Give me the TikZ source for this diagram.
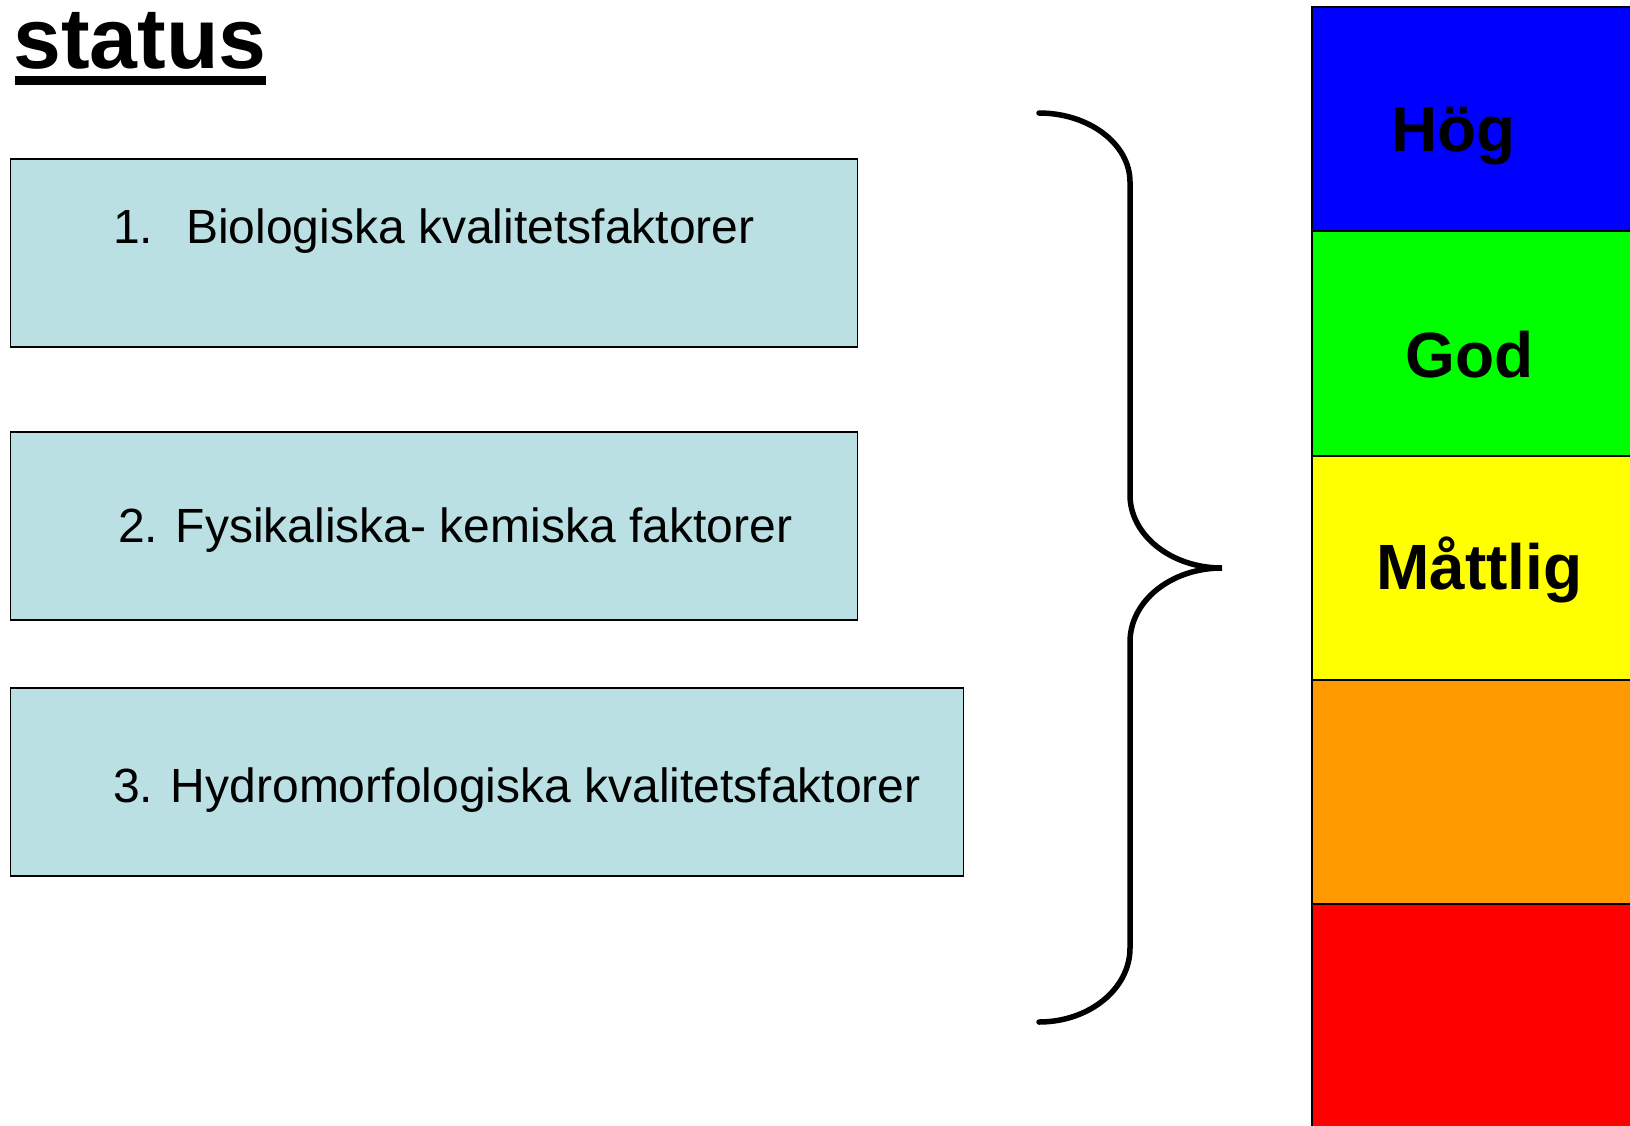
\documentclass[tikz,border=0pt]{standalone}
\usepackage{fontspec}
\setmainfont{Liberation Sans}
\definecolor{boxfill}{RGB}{186,224,227}
\definecolor{hog}{RGB}{0,0,255}
\definecolor{god}{RGB}{0,255,0}
\definecolor{mattlig}{RGB}{255,255,0}
\definecolor{otill}{RGB}{255,153,0}
\definecolor{dalig}{RGB}{255,0,0}
\begin{document}
\begin{tikzpicture}[x=1pt,y=-1pt,
  factorbox/.style={draw=black,line width=1.5pt,fill=boxfill,inner sep=0pt,
    minimum height=188pt},
  factortext/.style={anchor=base west,inner sep=0pt,
    font=\fontsize{48}{56}\selectfont},
  band/.style={draw=black,line width=2pt,inner sep=0pt,minimum width=330pt,
    minimum height=224.2pt,anchor=north west},
  bandtext/.style={anchor=base,inner sep=0pt,
    font=\fontsize{64}{72}\selectfont\bfseries},
  bracepath/.style={line width=5.5pt,line cap=round}]
\useasboundingbox (0,0) rectangle (1630,1125);
\clip (0,0) rectangle (1630,1125);
% title
\node[anchor=base west,inner sep=0pt,font=\fontsize{86}{96}\selectfont\bfseries]
  (status) at (13,68) {status};
\fill ([yshift=-8pt]status.base west -| 15,0) rectangle ([yshift=-17pt]status.base east -| 266,0);
% factor boxes
\node[factorbox,minimum width=847pt] (box1) at (434,253) {};
\node[factorbox,minimum width=847pt] (box2) at (434,526) {};
\node[factorbox,minimum width=953pt] (box3) at (487,782) {};
\node[factortext] (t1) at (113,243) {1.\hspace{33pt}Biologiska kvalitetsfaktorer};
\node[factortext] (t2) at (118,542) {2. Fysikaliska- kemiska faktorer};
\node[factortext] (t3) at (113,802) {3. Hydromorfologiska kvalitetsfaktorer};
% brace
\draw[bracepath] (1039,113)
  .. controls (1089,113) and (1130,144) .. (1130,182)
  -- (1130,495)
  .. controls (1130,535) and (1171,568) .. (1222,568)
  .. controls (1171,568) and (1130,601) .. (1130,642)
  -- (1130,948)
  .. controls (1130,989) and (1089,1022) .. (1039,1022);
% status bands
\node[band,fill=hog] (b1) at (1311,6.2) {};
\node[band,fill=god] (b2) at (1311,230.4) {};
\node[band,fill=mattlig] (b3) at (1311,454.6) {};
\node[band,fill=otill] (b4) at (1311,678.8) {};
\node[band,fill=dalig] (b5) at (1311,903) {};
\node[bandtext] (l1) at (1453.5,151) {Hög};
\node[bandtext] (l2) at (1469.5,377) {God};
\node[bandtext] (l3) at (1479.5,589) {Måttlig};
\end{tikzpicture}
\end{document}
